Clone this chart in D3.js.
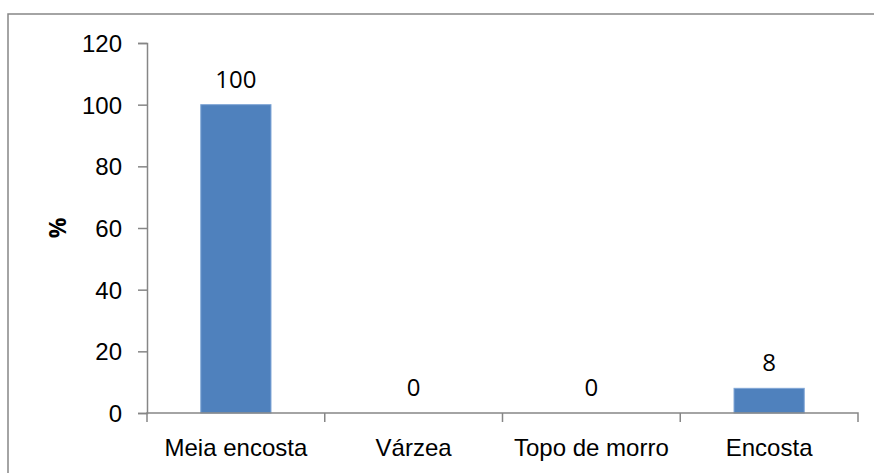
<!DOCTYPE html>
<html>
<head>
<meta charset="utf-8">
<script src="https://cdn.jsdelivr.net/npm/d3@7"></script>
<style>
  html, body { margin: 0; padding: 0; background: #fff; }
  svg { display: block; font-family: "Open Sans", "Liberation Sans", sans-serif; }
</style>
</head>
<body>
<div id="graph"></div>
<script>
const categorias = ["Meia encosta", "Várzea", "Topo de morro", "Encosta"];
const valores = [100, 0, 0, 8];
const yTicks = [0, 20, 40, 60, 80, 100, 120];

const width = 874;
const height = 473;
const margin = { top: 43, right: 16, bottom: 60, left: 147 };
const innerW = width - margin.left - margin.right;
const innerH = height - margin.top - margin.bottom;
const eixoCor = "#868686";
const fonte = "24px";

const svg = d3.select("#graph")
  .append("svg")
  .attr("width", width)
  .attr("height", height);

// moldura do grafico (cortada a direita e embaixo)
svg.append("rect")
  .attr("x", 8)
  .attr("y", 14)
  .attr("width", 900)
  .attr("height", 500)
  .attr("fill", "none")
  .attr("stroke", eixoCor)
  .attr("stroke-width", 1.5);

const g = svg.append("g")
  .attr("transform", `translate(${margin.left},${margin.top})`);

const x = d3.scaleBand()
  .domain(categorias)
  .range([0, innerW])
  .paddingInner(0)
  .paddingOuter(0);

const y = d3.scaleLinear()
  .domain([0, 120])
  .range([innerH, 0]);

const barW = x.bandwidth() * 0.395;

// eixo y
const yAxis = g.append("g")
  .call(d3.axisLeft(y).tickValues(yTicks).tickSize(9).tickPadding(16));
yAxis.select(".domain").attr("stroke", eixoCor).attr("stroke-width", 1.5);
yAxis.selectAll(".tick line").attr("stroke", eixoCor).attr("stroke-width", 1.5);
yAxis.selectAll(".tick text")
  .attr("fill", "#000")
  .style("font-size", fonte)
  .attr("dy", "0.35em");

// barras
g.selectAll("rect.barra")
  .data(valores)
  .enter()
  .append("rect")
  .attr("class", "barra")
  .attr("x", (d, i) => x(categorias[i]) + (x.bandwidth() - barW) / 2)
  .attr("y", d => y(d))
  .attr("width", barW)
  .attr("height", d => innerH - y(d))
  .attr("fill", "#4F81BD")
  .attr("stroke", d => d > 0 ? "#7fa6d6" : "none")
  .attr("stroke-width", 1);

// eixo x
const xAxis = g.append("g")
  .attr("transform", `translate(0,${innerH})`)
  .call(d3.axisBottom(x).tickSize(0).tickPadding(26));
xAxis.select(".domain").remove();
xAxis.append("path")
  .attr("d", `M0,${9}V0H${innerW}V${9}`)
  .attr("fill", "none")
  .attr("stroke", eixoCor)
  .attr("stroke-width", 1.5);
categorias.slice(1).forEach(c => {
  xAxis.append("line")
    .attr("x1", x(c)).attr("x2", x(c))
    .attr("y1", 0).attr("y2", 9)
    .attr("stroke", eixoCor)
    .attr("stroke-width", 1.5);
});
xAxis.selectAll(".tick text")
  .attr("fill", "#000")
  .style("font-size", fonte);

// rotulos de dados
g.selectAll("text.rotulo")
  .data(valores)
  .enter()
  .append("text")
  .attr("class", "rotulo")
  .attr("x", (d, i) => x(categorias[i]) + x.bandwidth() / 2)
  .attr("y", d => y(d) - 17)
  .attr("text-anchor", "middle")
  .style("font-size", fonte)
  .attr("fill", "#000")
  .text(d => d);

// titulo do eixo y
svg.append("text")
  .attr("transform", `translate(66,${margin.top + innerH / 2}) rotate(-90)`)
  .attr("text-anchor", "middle")
  .style("font-size", "23px")
  .style("font-weight", "bold")
  .attr("fill", "#000")
  .text("%");
</script>
</body>
</html>
